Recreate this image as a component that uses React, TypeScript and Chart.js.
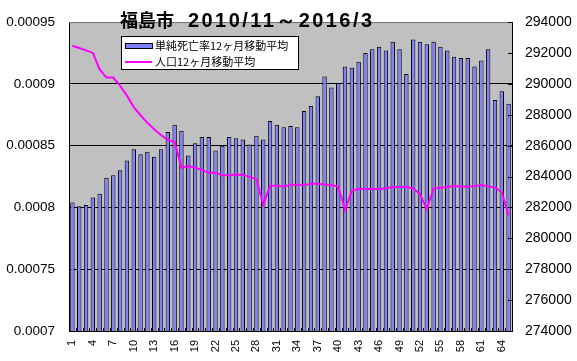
import React, { useEffect, useRef } from "react";
import { Chart, registerables } from "chart.js";

Chart.register(...registerables);

const CATEGORIES = [
  "1", "2", "3", "4", "5", "6", "7", "8", "9", "10",
  "11", "12", "13", "14", "15", "16", "17", "18", "19", "20",
  "21", "22", "23", "24", "25", "26", "27", "28", "29", "30",
  "31", "32", "33", "34", "35", "36", "37", "38", "39", "40",
  "41", "42", "43", "44", "45", "46", "47", "48", "49", "50",
  "51", "52", "53", "54", "55", "56", "57", "58", "59", "60",
  "61", "62", "63", "64", "65",
];

const X_TICK_LABELS = [
  "1", "4", "7", "10", "13", "16", "19", "22", "25", "28", "31",
  "34", "37", "40", "43", "46", "49", "52", "55", "58", "61", "64",
];

const DEATH_RATE = [
  0.000804, 0.000801, 0.000802, 0.000808, 0.000811, 0.000824, 0.000826, 0.000830, 0.000838, 0.000847,
  0.000843, 0.000845, 0.000841, 0.000847, 0.000861, 0.000867, 0.000862, 0.000842, 0.000852, 0.000857,
  0.000857, 0.000846, 0.000850, 0.000857, 0.000856, 0.000855, 0.000851, 0.000858, 0.000855, 0.000870,
  0.000867, 0.000865, 0.000866, 0.000865, 0.000878, 0.000882, 0.000890, 0.000906, 0.000897, 0.000901,
  0.000914, 0.000913, 0.000918, 0.000925, 0.000928, 0.000930, 0.000927, 0.000934, 0.000928, 0.000908,
  0.000936, 0.000934, 0.000932, 0.000934, 0.000930, 0.000927, 0.000922, 0.000921, 0.000921, 0.000914,
  0.000919, 0.000928, 0.000887, 0.000894, 0.000884,
];

const POPULATION = [
  292470, 292325, 292170, 292005, 290940, 290410, 290410, 289880, 289240, 288500,
  287970, 287480, 287060, 286690, 286375, 286230, 284570, 284680, 284570, 284430,
  284250, 284250, 284080, 284080, 284130, 284110, 283980, 283830, 282170, 283410,
  283410, 283360, 283470, 283470, 283445, 283535, 283535, 283490, 283445, 283360,
  281815, 283090, 283190, 283190, 283190, 283190, 283235, 283320, 283320, 283320,
  283235, 282870, 281880, 283235, 283280, 283320, 283380, 283360, 283345, 283380,
  283445, 283360, 283300, 282980, 281500,
];

const LEFT_TICKS = [0.0007, 0.00075, 0.0008, 0.00085, 0.0009, 0.00095];
const RIGHT_TICKS = [
  274000, 276000, 278000, 280000, 282000, 284000,
  286000, 288000, 290000, 292000, 294000,
];

const TITLE_CITY = "福島市";
const TITLE_PERIOD = "2010/11～2016/3";
const SERIES_BAR = "単純死亡率12ヶ月移動平均";
const SERIES_LINE = "人口12ヶ月移動平均";

const BAR_COLOR = "#8080ff";
const LINE_COLOR = "#ff00ff";
const PLOT_BG = "#c0c0c0";

const decorPlugin = {
  id: "decor",
  beforeDraw(chart: any) {
    const { ctx, chartArea } = chart;
    ctx.save();
    ctx.fillStyle = PLOT_BG;
    ctx.fillRect(chartArea.left, chartArea.top, chartArea.right - chartArea.left, chartArea.bottom - chartArea.top);
    ctx.restore();
  },
  afterDraw(chart: any) {
    const { ctx, chartArea } = chart;
    const { left, right, top, bottom } = chartArea;
    ctx.save();
    ctx.strokeStyle = "#808080";
    ctx.lineWidth = 1;
    ctx.beginPath();
    ctx.moveTo(left, top + 0.5);
    ctx.lineTo(right, top + 0.5);
    ctx.stroke();

    const y1 = chart.scales.y1;
    ctx.strokeStyle = "#000";
    ctx.beginPath();
    RIGHT_TICKS.forEach((v) => {
      const y = Math.round(y1.getPixelForValue(v)) + 0.5;
      ctx.moveTo(right - 4, y);
      ctx.lineTo(right, y);
    });
    ctx.stroke();

    const n = CATEGORIES.length;
    const w = (right - left) / n;
    ctx.beginPath();
    for (let i = 1; i < n; i++) {
      const x = Math.round(left + i * w) + 0.5;
      ctx.moveTo(x, bottom);
      ctx.lineTo(x, bottom - 3);
    }
    ctx.stroke();

    // title
    ctx.fillStyle = "#000";
    ctx.textBaseline = "alphabetic";
    ctx.textAlign = "left";
    ctx.font = 'bold 18px "Noto Sans CJK JP"';
    ctx.fillText(TITLE_CITY, 120, 27);
    ctx.font = 'bold 20px "Liberation Sans"';
    const target = 184;
    const measured = ctx.measureText(TITLE_PERIOD).width;
    const ls = Math.max(0, (target - measured) / (TITLE_PERIOD.length - 1));
    (ctx as any).letterSpacing = ls + "px";
    ctx.fillText(TITLE_PERIOD, 188, 27);
    (ctx as any).letterSpacing = "0px";

    // legend
    const lx = 121, ly = 36, lw = 177, lh = 33;
    ctx.fillStyle = "#fff";
    ctx.fillRect(lx, ly, lw, lh);
    ctx.strokeStyle = "#000";
    ctx.lineWidth = 1;
    ctx.strokeRect(lx + 0.5, ly + 0.5, lw, lh);

    ctx.fillStyle = BAR_COLOR;
    ctx.fillRect(125, 43, 27, 5);
    ctx.strokeRect(125.5, 43.5, 27, 5);

    ctx.strokeStyle = LINE_COLOR;
    ctx.lineWidth = 2;
    ctx.beginPath();
    ctx.moveTo(125, 62);
    ctx.lineTo(152, 62);
    ctx.stroke();

    ctx.fillStyle = "#000";
    ctx.font = '11px "Noto Sans CJK JP"';
    ctx.textBaseline = "middle";
    ctx.fillText(SERIES_BAR, 155, 46);
    ctx.fillText(SERIES_LINE, 155, 62);
    ctx.restore();
  },
};

export default function App() {
  const canvasRef = useRef<HTMLCanvasElement | null>(null);

  useEffect(() => {
    document.body.style.margin = "0";
    const canvas = canvasRef.current;
    if (!canvas) return;
    const chart = new Chart(canvas, {
      type: "bar",
      data: {
        labels: CATEGORIES,
        datasets: [
          {
            type: "line",
            label: SERIES_LINE,
            data: POPULATION,
            yAxisID: "y1",
            borderColor: LINE_COLOR,
            backgroundColor: LINE_COLOR,
            borderWidth: 2,
            pointRadius: 0,
            tension: 0,
            order: 0,
          } as any,
          {
            type: "bar",
            label: SERIES_BAR,
            data: DEATH_RATE,
            yAxisID: "y",
            backgroundColor: BAR_COLOR,
            borderColor: "#000",
            borderWidth: 1,
            barPercentage: 0.65,
            categoryPercentage: 1,
            order: 1,
          } as any,
        ],
      },
      options: {
        responsive: false,
        animation: false,
        devicePixelRatio: 1,
        layout: { padding: { top: 17, left: 0, right: 0, bottom: 0 } },
        plugins: {
          legend: { display: false },
          title: { display: false },
          tooltip: { enabled: false },
        },
        scales: {
          x: {
            type: "category",
            offset: true,
            grid: { display: false, drawTicks: false },
            border: { display: true, color: "#000", width: 1 },
            ticks: {
              autoSkip: false,
              minRotation: 90,
              maxRotation: 90,
              padding: 9,
              color: "#000",
              font: { family: "Liberation Sans", size: 11 },
              callback: (_v: any, i: number) =>
                X_TICK_LABELS.includes(CATEGORIES[i]) ? CATEGORIES[i] : "",
            },
            afterFit: (s: any) => {
              s.height = 30;
            },
          },
          y: {
            type: "linear",
            position: "left",
            min: 0.0007,
            max: 0.00095,
            afterBuildTicks: (s: any) => {
              s.ticks = LEFT_TICKS.map((value) => ({ value }));
            },
            grid: { color: "#000", lineWidth: 1, drawTicks: false },
            border: { display: true, color: "#000", width: 1 },
            ticks: {
              padding: 14,
              color: "#000",
              font: { family: "Liberation Sans", size: 13.5 },
              callback: (v: any) => String(Number(Number(v).toFixed(5))),
            },
            afterFit: (s: any) => {
              s.width = 69;
            },
          },
          y1: {
            type: "linear",
            position: "right",
            min: 274000,
            max: 294000,
            afterBuildTicks: (s: any) => {
              s.ticks = RIGHT_TICKS.map((value) => ({ value }));
            },
            grid: { display: false, drawTicks: false },
            border: { display: true, color: "#000", width: 1 },
            ticks: {
              padding: 13,
              color: "#000",
              font: { family: "Liberation Sans", size: 14 },
              callback: (v: any) => String(v),
            },
            afterFit: (s: any) => {
              s.width = 65;
            },
          },
        },
      },
      plugins: [decorPlugin],
    });
    return () => chart.destroy();
  }, []);

  return (
    <div style={{ width: 577, height: 361, background: "#fff" }}>
      <canvas ref={canvasRef} width={577} height={361} style={{ display: "block" }} />
    </div>
  );
}
